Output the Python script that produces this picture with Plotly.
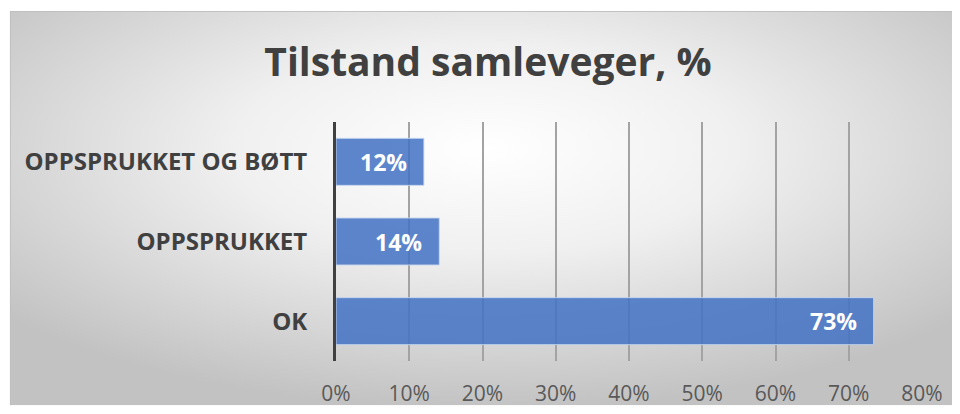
import base64
import plotly.graph_objects as go

categories = ["OK", "OPPSPRUKKET", "OPPSPRUKKET OG BØTT"]
values = [73.4, 14.1, 12.0]
tick_vals = [0, 10, 20, 30, 40, 50, 60, 70, 80]
tick_text = ["0%", "10%", "20%", "30%", "40%", "50%", "60%", "70%", "80%"]

# page body has an 8px margin, so everything is placed 8px up/left
# and the figure is kept small enough that the page does not scroll
OFF = 8
W, H = 960 - OFF, 414 - 2 * OFF
L, T = 336 - OFF, 121.5 - OFF
R, B = W - (921.6 - OFF), H - (361.5 - OFF)
pw, ph = W - L - R, H - T - B

# radial gray background like the Excel chart area
svg = """<svg xmlns='http://www.w3.org/2000/svg' width='960' height='412' preserveAspectRatio='none'>
<defs><radialGradient id='g' cx='0.5' cy='0.35' r='0.66'>
<stop offset='0' stop-color='#ffffff'/><stop offset='0.4' stop-color='#f0f0f0'/>
<stop offset='1' stop-color='#c2c2c2'/></radialGradient></defs>
<rect x='0' y='0' width='960' height='412' fill='url(#g)'/>
<rect x='0.5' y='0.5' width='970' height='420' fill='none' stroke='#bfbfbf' stroke-width='1'/>
</svg>"""
bg = "data:image/svg+xml;base64," + base64.b64encode(svg.encode()).decode()

fig = go.Figure(go.Bar(
    x=values, y=categories, orientation="h",
    marker=dict(color="rgba(68,114,196,0.86)", line=dict(color="rgba(200,215,240,0.9)", width=1)),
    width=0.59, hoverinfo="skip",
))

for v, c in zip(values, categories):
    fig.add_annotation(x=v, y=c, text=f"<b>{v:.0f}%</b>", showarrow=False,
                       xanchor="right", xshift=-15,
                       font=dict(family="Open Sans", size=23, color="white"))

gx, gy = 10 - OFF, 10 - OFF
fig.add_layout_image(dict(
    source=bg, xref="paper", yref="paper",
    x=(gx - L) / pw, y=1 + (T - gy) / ph,
    sizex=(W - gx) / pw, sizey=(H - gy) / ph,
    xanchor="left", yanchor="top", sizing="stretch", layer="below",
))

fig.update_layout(
    width=W, height=H,
    margin=dict(l=L, r=R, t=T, b=B, autoexpand=False),
    paper_bgcolor="white", plot_bgcolor="rgba(0,0,0,0)",
    showlegend=False,
    title=dict(text="<b>Tilstand samleveger, %</b>", x=(488 - OFF) / W, xanchor="center",
               y=1 - (62 - OFF) / H, yanchor="middle",
               font=dict(family="Open Sans", size=39, color="#404040")),
    xaxis=dict(range=[0, 80], tickvals=tick_vals, ticktext=tick_text,
               showgrid=True, gridcolor="#a3a3a3", gridwidth=1.5,
               zeroline=False, showline=False, ticks="", automargin=False,
               ticklabelstandoff=18,
               tickfont=dict(family="Open Sans", size=21, color="#595959"),
               fixedrange=True),
    yaxis=dict(categoryorder="array", categoryarray=categories,
               range=[-0.5, 2.5], showgrid=False, zeroline=False,
               showline=True, linecolor="#404040", linewidth=3, ticks="",
               automargin=False, ticklabelstandoff=21,
               tickfont=dict(family="Open Sans", size=24, color="#404040", weight="bold"),
               fixedrange=True),
)

fig.write_html("out.html")
